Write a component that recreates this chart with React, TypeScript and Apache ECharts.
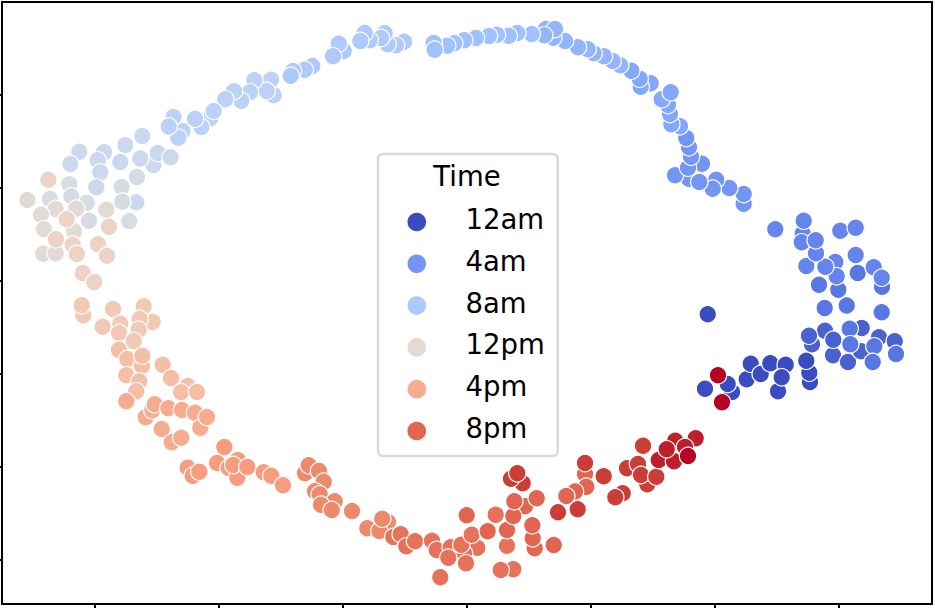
import React, { useEffect, useRef } from 'react';
import * as echarts from 'echarts';

// axis ticks have no labels in the picture, so the units are just what was read off it
const X_TICKS = [95, 219, 343, 467, 591, 715, 839];
const Y_TICKS = [95, 188, 281, 374, 467, 560];

const HOUR_NAMES = [
  '12am', '1am', '2am', '3am', '4am', '5am', '6am', '7am', '8am', '9am', '10am', '11am',
  '12pm', '1pm', '2pm', '3pm', '4pm', '5pm', '6pm', '7pm', '8pm', '9pm', '10pm', '11pm'
];

const LEGEND_HOURS = ['12am', '4am', '8am', '12pm', '4pm', '8pm'];

// coolwarm, one colour per hour
const HOUR_COLORS = [
  '#3b4cc0', '#4a61d0', '#5977e3', '#6485ec', '#7396f5', '#83a7fb',
  '#93b5fe', '#a1c0ff', '#aec9fc', '#bbd1f8', '#cbd8ee', '#d7dce3',
  '#e2dad5', '#ecd3c5', '#f2c9b4', '#f5bfa6', '#f6ac8f', '#f59d7e',
  '#ee8a6c', '#e67359', '#e16550', '#cb3e38', '#bd1f2d', '#b40426'
];

const POINTS_BY_HOUR = [
  [[707.7, 314.3], [705, 388.7], [732, 392], [727.7, 384], [746.7, 379.3], [750.7, 363.7], [760.7, 374], [770.3, 363.3], [785.7, 364.7], [778, 391.3], [781.7, 377.3], [810, 382], [809.3, 372.7], [806.3, 360.7]],
  [[812, 344.3], [825, 330.7], [833, 355.3], [848, 362], [861, 351.3], [861.7, 328], [879, 337.3], [894.7, 341.3], [809, 335.7], [833.3, 339.7]],
  [[849.7, 328.7], [850.3, 344.3], [874.3, 346.3], [872.7, 362], [896, 354], [881.7, 312.3], [846.7, 305.5], [824.7, 308], [838.3, 289.7], [819, 284.7], [857.7, 273], [882, 286.7]],
  [[873.7, 267.3], [835.3, 262], [836.7, 276.3], [825.3, 266.7], [806.3, 266], [816, 253.3], [881.7, 277.7], [855.7, 255], [840.3, 230.7], [855.7, 227.7], [775.3, 229.3], [802.7, 233.7], [801.7, 242.3], [815.7, 240.3], [803.7, 220.7]],
  [[743.7, 203.7], [743.7, 194], [729.3, 188], [716.3, 179.7], [712.7, 188.7], [689, 178.7], [699.3, 182], [675, 175.3], [702, 163.7], [688, 167.7], [691, 156.7], [689, 147.3], [686.3, 138]],
  [[680, 126.3], [671.3, 124.3], [670, 114], [668, 105], [661.7, 99.3], [670.7, 92.3], [650.7, 83.3], [640.7, 86.7], [639.7, 78.7], [631.3, 70.7]],
  [[620.3, 65.3], [612.7, 61], [604, 56.3], [593.7, 53.3], [587.7, 49.3], [578, 47.3], [565, 41], [553.3, 37.7], [546, 29], [555, 29], [544.3, 35.3]],
  [[531.7, 34], [517.3, 33], [508.7, 35.7], [497, 34.7], [489, 36], [476, 38], [464.3, 40.3], [454.3, 43.3], [447.3, 45.7], [433.7, 43], [434.7, 49.7]],
  [[404, 41.7], [396, 45.3], [387.7, 44.3], [384.7, 33.3], [381, 38], [369.7, 40.3], [364.7, 33], [360.3, 41], [343.7, 51], [338.7, 43.7], [333, 56.3], [312.3, 66], [304.7, 69.7], [293, 71], [290.7, 75.7]],
  [[273.7, 95.3], [271, 79.7], [266.7, 91], [254.3, 80.3], [250, 92.3], [241.3, 100.7], [234, 91.3], [225.3, 99.3], [210.3, 118.3], [213.7, 111], [201.3, 127], [195, 118.7], [182.5, 131], [178.3, 137.7], [173.5, 117], [168.7, 126.5]],
  [[142.3, 136], [125.3, 145], [153.3, 165], [157.7, 153], [170.7, 157.3], [140.3, 158.5], [120.3, 162], [104, 152.3], [97.7, 160.3], [79.3, 151.7], [100.3, 172.3], [136.3, 202.3], [96.3, 187.3], [70.3, 164]],
  [[137, 177], [121.7, 187], [122.3, 201.7], [69.3, 184.3], [86.7, 202.7], [71.3, 196.3], [89, 220.7], [129.3, 221.3], [50, 199]],
  [[106.3, 209.7], [76.3, 208.7], [55.7, 209], [27.3, 200], [41, 214.7], [44, 229.3], [74, 231.3], [43.3, 253.7], [55.7, 253.3]],
  [[48.3, 179.7], [109, 226.7], [66.7, 219.3], [56, 239.3], [72.7, 244.7], [76.7, 254], [98, 244.3], [107, 255.7], [82.7, 273], [94.3, 282]],
  [[83.3, 315.3], [81.7, 305.3], [113, 309], [143.7, 306.3], [102.7, 326.7], [120.3, 323.7], [119, 333], [152.7, 322], [139.7, 319], [138.7, 329.7], [133.7, 341]],
  [[119, 349.7], [127.3, 359], [142, 366], [142.3, 355.7], [162.7, 364.7], [126.3, 375.3], [139.3, 381.3], [171, 378], [187.7, 386], [181, 392.3], [197, 392], [136.3, 391.3]],
  [[126.3, 401.3], [145.7, 417.3], [152.3, 410.3], [154.7, 404.3], [168.3, 408.3], [182, 410], [195, 412.7], [200.3, 427.7], [207, 417], [161.7, 429], [171.7, 442.3], [181.3, 437.7]],
  [[224.3, 447], [187.7, 467.7], [192.7, 475.7], [199.3, 471.7], [217, 463], [237.7, 460], [228.7, 468], [237.3, 477.7], [233.3, 465], [247.3, 467], [263.7, 472.3], [271.3, 475.7], [283, 485.3]],
  [[305, 473.3], [308.7, 465.3], [319, 471], [323.7, 481.7], [315, 491.3], [319.7, 494.3], [334.7, 501.3], [321, 504.7], [331.7, 510], [352, 511], [367.3, 528.3], [388, 522], [379.3, 531], [382.3, 518.7]],
  [[393.3, 537], [400.7, 534.3], [406.3, 546.3], [415, 541.3], [432, 540.7], [436.7, 550], [440.3, 577.3], [450.7, 547.3], [477.3, 547.7], [464, 553.3], [461.3, 544.7], [448.3, 557.7], [466, 563.3], [471.7, 534.7], [507, 545.7], [513.3, 569.3], [500.7, 570], [495.7, 514.7]],
  [[487.7, 531.3], [466.7, 515.3], [507, 530], [525, 506.3], [513.3, 516], [514.3, 501.3], [534.7, 548.3], [532.7, 538.3], [532.3, 525.3], [553.7, 545], [536.7, 498.3], [585, 474], [586.3, 486.7], [575, 491.5], [566.3, 496]],
  [[522.7, 483.3], [511, 478.7], [517.3, 473.3], [558, 512.3], [577.7, 509.3], [585, 463], [603.7, 476.3], [622.7, 493.3], [615.3, 497.3], [627, 468.3], [638, 464], [647.3, 484.3], [641, 475], [656.3, 476.7], [643, 445.7]],
  [[658.7, 460], [674, 461.3], [675.3, 440.7], [695.7, 438.3], [666.7, 449.3], [685, 447]],
  [[688, 456], [718, 375.3], [722, 402.3]]
];

const FONT = '"DejaVu Sans"';

const App = () => {
  const chartRef = useRef<HTMLDivElement | null>(null);

  useEffect(() => {
    if (!chartRef.current) return;
    document.body.style.margin = '0';

    const chart = echarts.init(chartRef.current, null, { renderer: 'svg' });

    chart.setOption({
      animation: false,
      backgroundColor: '#fff',
      textStyle: { fontFamily: FONT },
      grid: {
        show: true,
        left: 2,
        right: 3,
        top: 2,
        bottom: 4,
        borderColor: '#000',
        borderWidth: 2,
        backgroundColor: '#fff'
      },
      xAxis: {
        type: 'value',
        min: 2,
        max: 932,
        splitLine: { show: false },
        axisLine: { show: false },
        axisLabel: { show: false },
        axisTick: {
          show: true,
          length: 4,
          customValues: X_TICKS,
          lineStyle: { color: '#000', width: 2 }
        }
      },
      yAxis: {
        type: 'value',
        inverse: true,
        min: 2,
        max: 604,
        splitLine: { show: false },
        axisLine: { show: false },
        axisLabel: { show: false },
        axisTick: {
          show: true,
          length: 2,
          customValues: Y_TICKS,
          lineStyle: { color: '#000', width: 2 }
        }
      },
      legend: {
        data: LEGEND_HOURS,
        orient: 'vertical',
        left: 378,
        top: 154,
        padding: [51, 13, 8, 27.5],
        selectedMode: false,
        icon: 'circle',
        itemWidth: 20.5,
        itemHeight: 20.5,
        itemGap: 7.8,
        backgroundColor: '#fff',
        borderColor: '#d9d9d9',
        borderWidth: 2.5,
        borderRadius: 5,
        formatter: '{t|{name}}',
        textStyle: {
          fontFamily: FONT,
          fontSize: 27.5,
          color: '#000',
          rich: {
            t: {
              fontFamily: FONT,
              fontSize: 27.5,
              lineHeight: 27,
              color: '#000',
              padding: [0, 0, 6, 33.5]
            }
          }
        }
      },
      graphic: [
        {
          type: 'text',
          x: 467,
          y: 176,
          z: 100,
          style: {
            text: 'Time',
            fontFamily: FONT,
            fontSize: 27.5,
            fill: '#000',
            align: 'center',
            verticalAlign: 'middle'
          }
        }
      ],
      series: POINTS_BY_HOUR.map((points, hour) => ({
        name: HOUR_NAMES[hour],
        type: 'scatter',
        data: points,
        symbolSize: 17.4,
        itemStyle: {
          color: HOUR_COLORS[hour],
          borderColor: '#fff',
          borderWidth: 1.2,
          opacity: 1
        }
      }))
    });

    return () => {
      chart.dispose();
    };
  }, []);

  return <div ref={chartRef} style={{ width: 935, height: 608 }} />;
};

export default App;
